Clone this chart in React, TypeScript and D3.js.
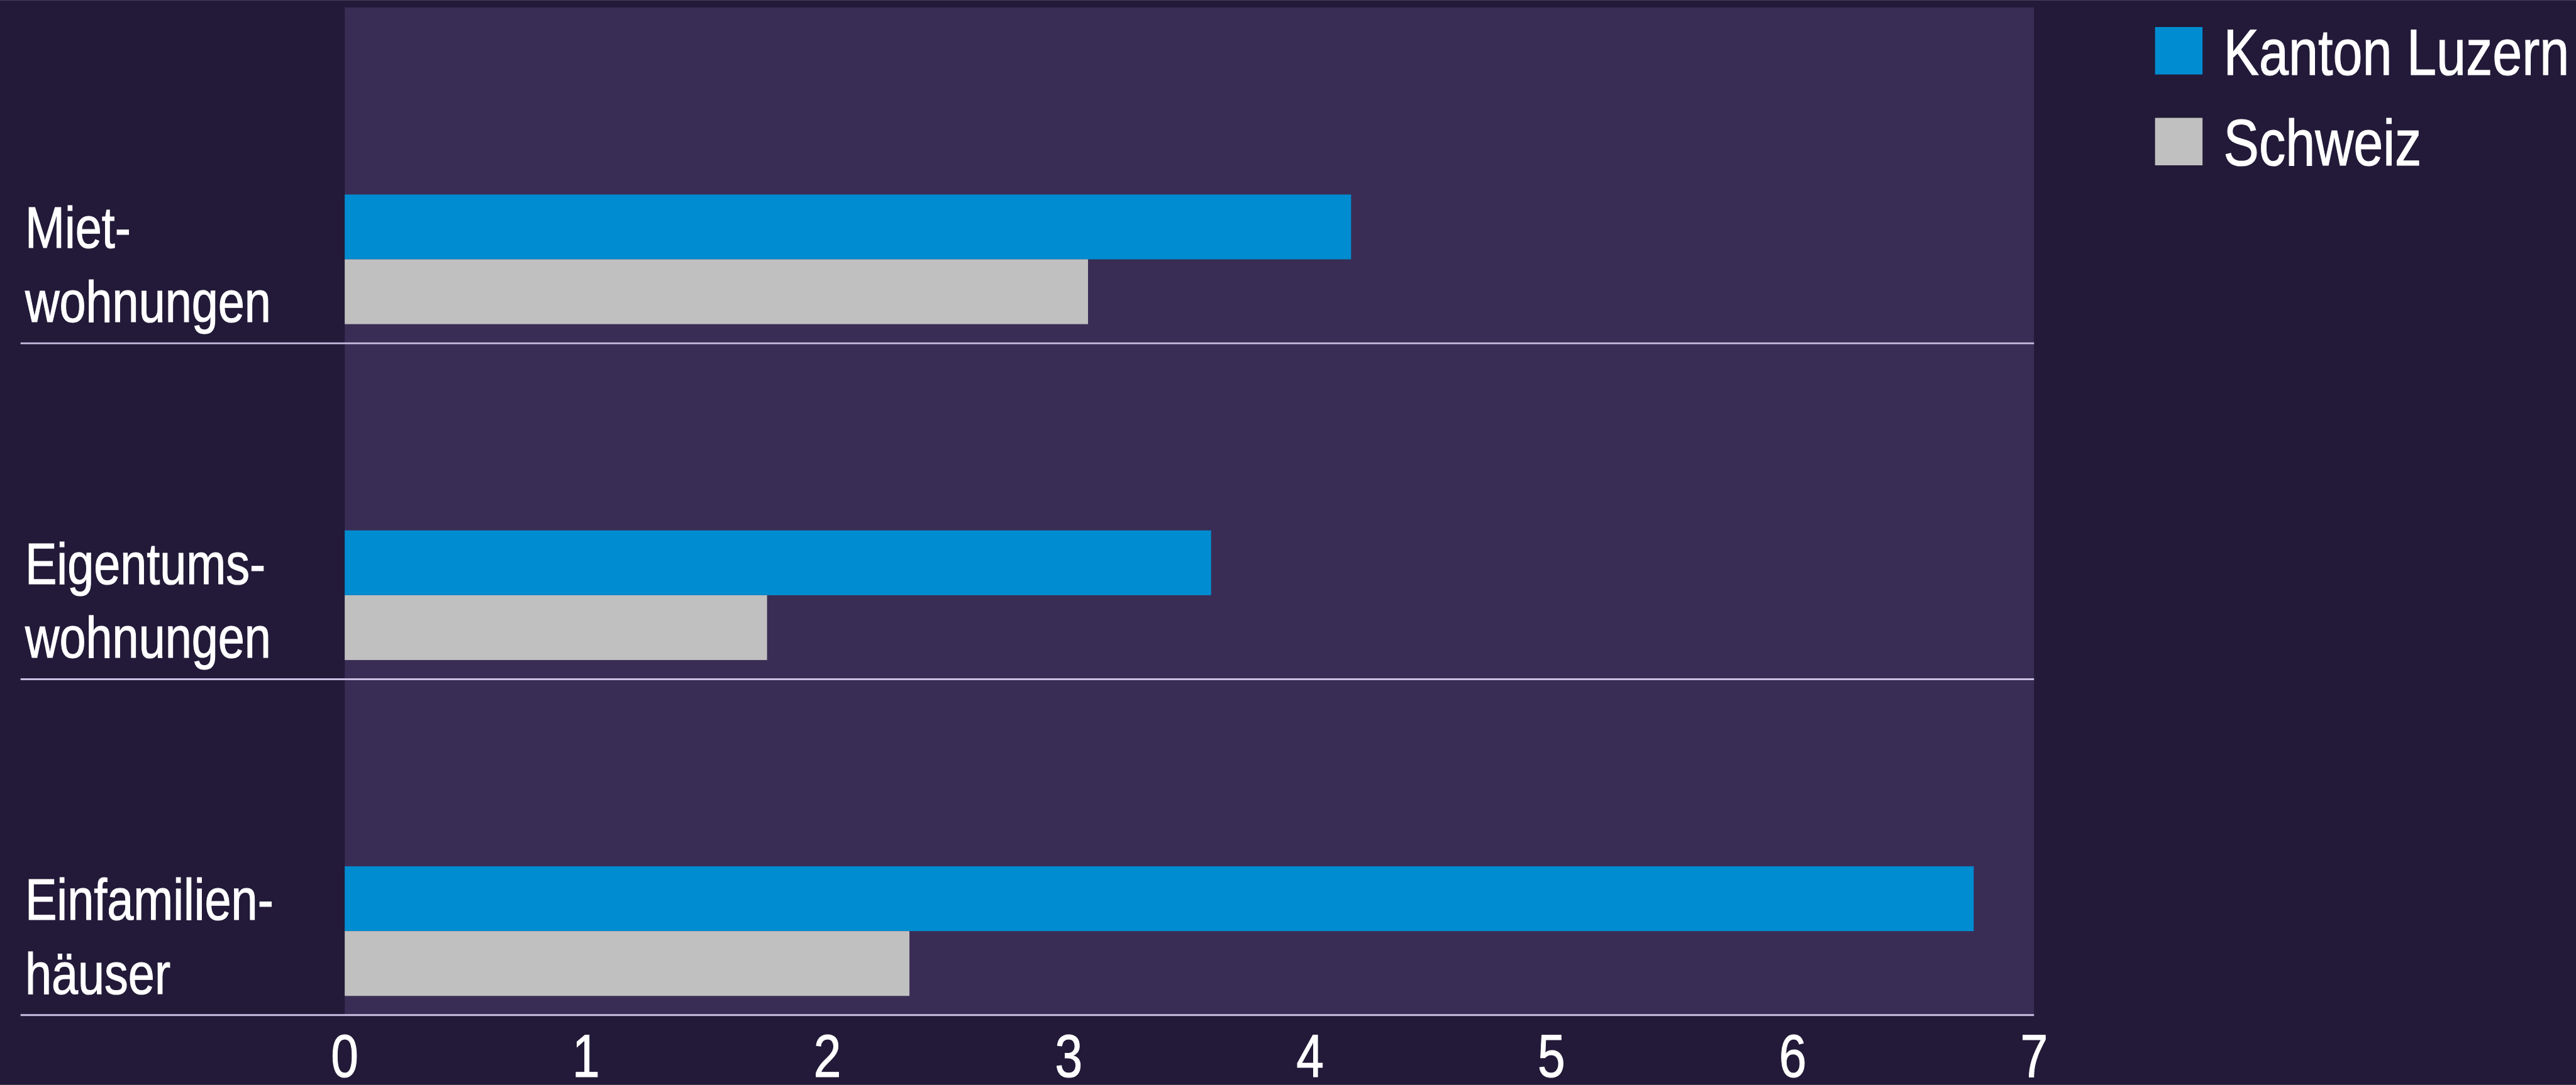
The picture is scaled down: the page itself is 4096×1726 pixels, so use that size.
import React from "react";
import * as d3 from "d3";

const categories: string[][] = [
  ["Miet-", "wohnungen"],
  ["Eigentums-", "wohnungen"],
  ["Einfamilien-", "häuser"],
];
const categoryKeys = ["Mietwohnungen", "Eigentumswohnungen", "Einfamilienhäuser"];
const seriesNames = ["Kanton Luzern", "Schweiz"];
const luzernValues = [4.17, 3.59, 6.75];
const schweizValues = [3.08, 1.75, 2.34];
const xTicks = [0, 1, 2, 3, 4, 5, 6, 7];

const W = 5642;
const H = 2377;
const BG = "#221a38";
const PLOT_BG = "#3a2d55";
const BLUE = "#008cd0";
const GRAY = "#c0c0c0";
const LINE = "#c9bfe2";
const FONT = "'Liberation Sans', Arial, Helvetica, sans-serif";
const NARROW = 0.82;

function NText(props: { x: number; y: number; size: number; anchor?: string; children: React.ReactNode }) {
  return (
    <g transform={`translate(${props.x},${props.y}) scale(${NARROW},1)`}>
      <text
        x={0}
        y={0}
        fill="#ffffff"
        stroke="#ffffff"
        strokeWidth={1.6}
        fontFamily={FONT}
        fontSize={props.size}
        textAnchor={props.anchor || "start"}
      >
        {props.children}
      </text>
    </g>
  );
}

export default function App() {
  const plotLeft = 755;
  const plotRight = 4455;
  const plotTop = 16;
  const plotBottom = 2224;

  const x = d3.scaleLinear().domain([0, 7]).range([plotLeft, plotRight]);
  const y = d3.scaleBand<string>().domain(categoryKeys).range([plotTop, plotBottom]).padding(0);

  const barH = 142;
  const bottomGap = 42;
  const series = [luzernValues, schweizValues];
  const colors = [BLUE, GRAY];

  return (
    <svg
      width={4096}
      height={1726}
      viewBox={`0 0 ${W} ${H}`}
      style={{ position: "absolute", left: 0, top: 0, display: "block" }}
    >
      <rect x={0} y={0} width={W} height={H} fill={BG} />
      <rect x={plotLeft} y={plotTop} width={plotRight - plotLeft} height={plotBottom - plotTop} fill={PLOT_BG} />

      {categoryKeys.map((key, i) => {
        const bandEnd = (y(key) as number) + y.bandwidth();
        return (
          <g key={key}>
            {series.map((vals, s) => (
              <rect
                key={s}
                x={x(0)}
                y={bandEnd - bottomGap - barH * (2 - s)}
                width={x(vals[i]) - x(0)}
                height={barH}
                fill={colors[s]}
              />
            ))}
            <line x1={45} x2={plotRight} y1={bandEnd} y2={bandEnd} stroke={LINE} strokeWidth={4} />
            <NText x={55} y={bandEnd - 209} size={127}>
              {categories[i][0]}
            </NText>
            <NText x={55} y={bandEnd - 47} size={127}>
              {categories[i][1]}
            </NText>
          </g>
        );
      })}

      {xTicks.map((t) => (
        <NText key={t} x={x(t)} y={2360} size={132} anchor="middle">
          {t}
        </NText>
      ))}

      {seriesNames.map((name, i) => (
        <g key={name}>
          <rect x={4720} y={59 + i * 199} width={104} height={104} fill={colors[i]} />
          <NText x={4870} y={163 + i * 199} size={142}>
            {name}
          </NText>
        </g>
      ))}
    </svg>
  );
}
